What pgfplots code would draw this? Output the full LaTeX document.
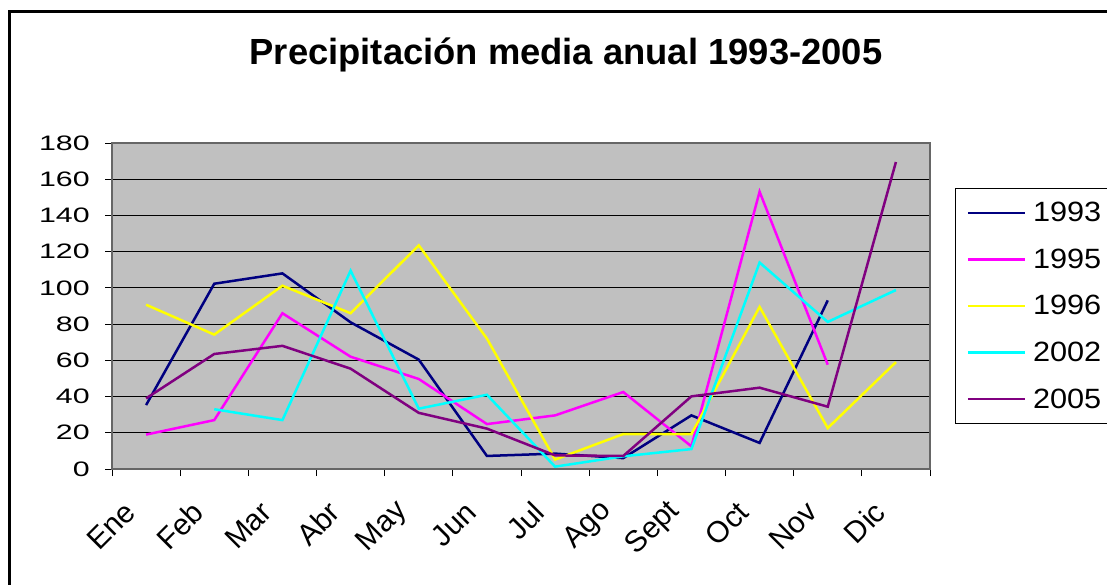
\documentclass[border=0pt]{standalone}
\usepackage{fontspec}
\setmainfont{Liberation Sans}
\usepackage{pgfplots}
\pgfplotsset{compat=1.18}
\definecolor{c93}{RGB}{0,0,128}
\definecolor{c95}{RGB}{255,0,255}
\definecolor{c96}{RGB}{255,255,0}
\definecolor{c02}{RGB}{0,255,255}
\definecolor{c05}{RGB}{128,0,128}
\definecolor{plotbg}{RGB}{192,192,192}
\begin{document}
\begin{tikzpicture}
\useasboundingbox (0,0) rectangle (1107bp,585bp);
\clip (0,0) rectangle (1107bp,585bp);
\draw[line width=2.5bp] (9.5bp,-10bp) -- (9.5bp,573.5bp) -- (1120bp,573.5bp);
\node[font=\fontsize{36.5}{40}\bfseries\selectfont] at (566bp,530bp) {Precipitación media anual 1993-2005};
\begin{axis}[
  at={(112bp,116bp)}, anchor=south west,
  scale only axis, width=818bp, height=326bp,
  xmin=-0.5, xmax=11.5, ymin=0, ymax=180,
  axis background/.style={fill=plotbg},
  axis line style={draw=gray!80!black, line width=1.5bp},
  ytick={0,20,...,180},
  ymajorgrids, major grid style={black, line width=0.8bp},
  tick align=outside, tick pos=left,
  major tick length=7bp,
  tick style={black, line width=0.8bp},
  /pgf/number format/assume math mode=true,
  yticklabel style={font=\fontsize{21}{21}\selectfont, anchor=east, inner sep=0pt, xshift=-15bp, xscale=1.45},
  xtick={-0.5,0.5,...,11.5},
  xticklabels={},
  extra x ticks={0,...,11},
  extra x tick labels={Ene,Feb,Mar,Abr,May,Jun,Jul,Ago,Sept,Oct,Nov,Dic},
  extra x tick style={major tick length=0pt,
    xticklabel style={font=\fontsize{30}{30}\selectfont, anchor=east, inner sep=0pt, xshift=-16bp, yshift=-38bp, rotate=45}},
  legend cell align=left,
  legend image code/.code={\draw[#1] (0bp,0bp) -- (57bp,0bp);},
  legend style={at={(1.0306,0.862)}, anchor=north west, draw=black, line width=1bp, fill=white,
    inner xsep=11bp, inner ysep=1bp, row sep=0pt, column sep=7bp,
    nodes={font=\fontsize{28}{28}\selectfont, xscale=1.1, inner sep=0pt, minimum height=46.6bp, text width=80bp, align=left, anchor=west}},
  every axis plot/.append style={line width=2.5bp},
]
\addplot[c93] coordinates {(0,35.3)(1,102.3)(2,108)(3,81)(4,60.4)(5,7.2)(6,8.5)(7,6)(8,29.6)(9,14.4)(10,93.1)};
\addlegendentry{1993}
\addplot[c95] coordinates {(0,19)(1,27)(2,86)(3,62)(4,49.7)(5,24.8)(6,29.6)(7,42.5)(8,12.5)(9,153.1)(10,57.6)};
\addlegendentry{1995}
\addplot[c96] coordinates {(0,90.7)(1,74.2)(2,101.2)(3,86)(4,123.5)(5,72)(6,5.2)(7,19.3)(8,19.3)(9,89.5)(10,22.6)(11,59)};
\addlegendentry{1996}
\addplot[c02] coordinates {(1,33)(2,27)(3,109.5)(4,33.3)(5,41)(6,1.3)(7,7)(8,11)(9,114)(10,81.2)(11,98.8)};
\addlegendentry{2002}
\addplot[c05] coordinates {(0,39)(1,63.5)(2,68)(3,55.4)(4,31)(5,22.3)(6,7.5)(7,7.2)(8,40.1)(9,44.9)(10,34.4)(11,169.5)};
\addlegendentry{2005}
\end{axis}
\end{tikzpicture}
\end{document}
